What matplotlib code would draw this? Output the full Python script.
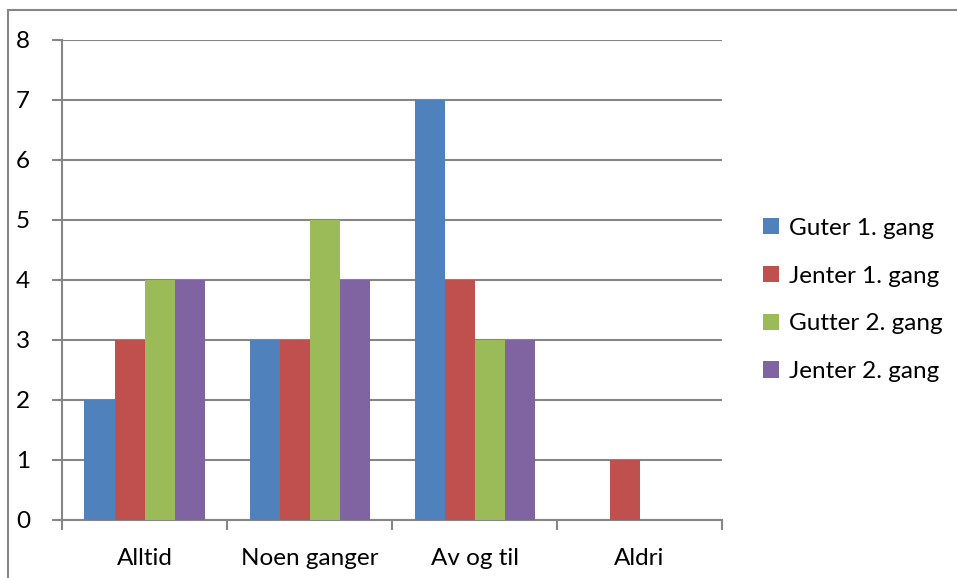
import numpy as np
from matplotlib import pyplot as plt
from matplotlib.patches import Rectangle

categories = ["Alltid", "Noen ganger", "Av og til", "Aldri"]
series_names = ["Guter 1. gang", "Jenter 1. gang", "Gutter 2. gang", "Jenter 2. gang"]
guter_1 = [2, 3, 7, 0]
jenter_1 = [3, 3, 4, 1]
gutter_2 = [4, 5, 3, 0]
jenter_2 = [4, 4, 3, 0]
y_ticks = [0, 1, 2, 3, 4, 5, 6, 7, 8]

colors = ["#4F81BD", "#C0504D", "#9BBB59", "#8064A2"]
grid_color = "#868686"

plt.rcParams['font.family'] = ['Lato', 'DejaVu Sans']

fig = plt.figure(figsize=(9.57, 5.78), dpi=100)
W, H = 957, 578
ax = fig.add_axes([62 / W, 1 - 520 / H, 660 / W, 480 / H])

# outer chart border (right/bottom edges fall outside the image)
fig.patches.append(Rectangle((8 / W, -0.1), 1.2, 1 - 10 / H + 0.1,
                             transform=fig.transFigure, fill=False,
                             edgecolor=grid_color, linewidth=1.5))

x = np.arange(len(categories))
width = 30 / 165
all_series = [guter_1, jenter_1, gutter_2, jenter_2]
for i, (vals, name) in enumerate(zip(all_series, series_names)):
    ax.bar(x + (i - 1.5) * width, vals, width, color=colors[i], label=name,
           zorder=3)

ax.set_xlim(-0.5, len(categories) - 0.5)
ax.set_ylim(0, 8)
ax.set_yticks(y_ticks)
ax.yaxis.grid(True, color=grid_color, linewidth=1.5, zorder=0)

ax.set_xticks(x)
ax.set_xticklabels(categories, fontsize=17.5)
ax.set_xticks(np.arange(len(categories) + 1) - 0.5, minor=True)
ax.tick_params(axis='x', which='major', length=0, pad=20)
ax.tick_params(axis='x', which='minor', length=7, width=1.5, color=grid_color)
ax.tick_params(axis='y', length=7, width=1.5, color=grid_color,
               labelsize=17.5, pad=16)

for side in ["top", "right"]:
    ax.spines[side].set_visible(False)
for side in ["left", "bottom"]:
    ax.spines[side].set_color(grid_color)
    ax.spines[side].set_linewidth(1.5)

fig.legend(loc="center left", bbox_to_anchor=(751 / W, 1 - 300 / H),
           frameon=False, fontsize=17.5, handlelength=0.65, handleheight=0.65,
           handletextpad=0.4, labelspacing=1.1, borderpad=0)

fig.savefig("out.png", dpi=100)
